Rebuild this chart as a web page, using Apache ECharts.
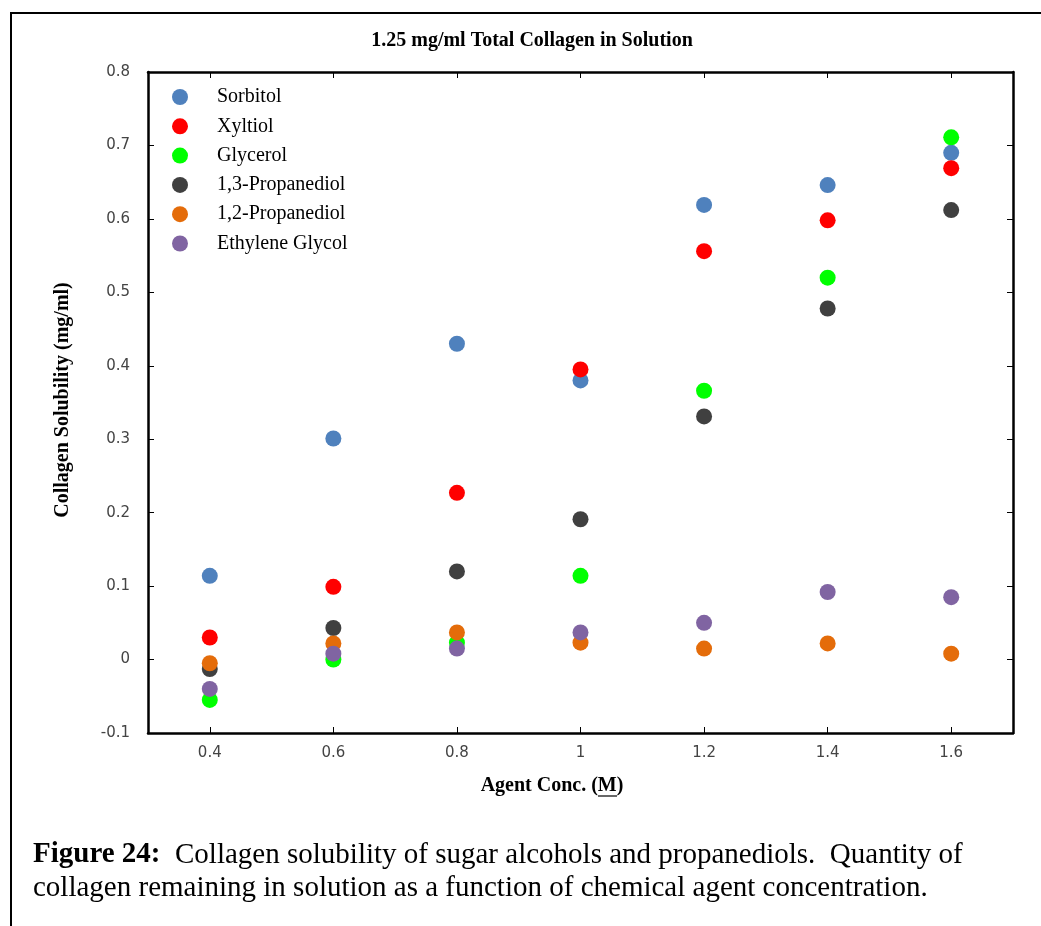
<!DOCTYPE html>
<html>
<head>
<meta charset="utf-8">
<script src="https://cdn.jsdelivr.net/npm/echarts@6/dist/echarts.min.js"></script>
<style>html,body{margin:0;padding:0;background:#fff;}#c{width:1041px;height:926px;}</style>
</head>
<body>
<div id="c"></div>
<script>
const xValues = [0.4, 0.6, 0.8, 1.0, 1.2, 1.4, 1.6];
const xTicks = [0.4, 0.6, 0.8, 1.0, 1.2, 1.4, 1.6];
const seriesNames = ['Sorbitol', 'Xyltiol', 'Glycerol', '1,3-Propanediol', '1,2-Propanediol', 'Ethylene Glycol'];
const sorbitol   = [0.114, 0.301, 0.430, 0.380, 0.619, 0.646, 0.690];
const xyltiol    = [0.030, 0.099, 0.227, 0.395, 0.556, 0.598, 0.669];
const glycerol   = [-0.055, 0.000, 0.023, 0.114, 0.366, 0.520, 0.711];
const prop13     = [-0.013, 0.043, 0.120, 0.191, 0.331, 0.478, 0.612];
const prop12     = [-0.005, 0.022, 0.037, 0.023, 0.015, 0.022, 0.008];
const ethylene   = [-0.040, 0.008, 0.015, 0.037, 0.050, 0.092, 0.085];
const colors = ['#4F81BD', '#FF0000', '#00FF00', '#404040', '#E46C0A', '#8064A2'];
const allValues = [sorbitol, xyltiol, glycerol, prop13, prop12, ethylene];

const chart = echarts.init(document.getElementById('c'), null, {renderer: 'canvas'});
const axisLabelStyle = {color: '#444', fontFamily: 'DejaVu Sans', fontSize: 15};
const lineStyleAxis = {color: '#000', width: 2.5};
const tickStyle = {color: '#000', width: 1};
const option = {
  backgroundColor: '#fff',
  animation: false,
  legend: {
    orient: 'vertical', left: 167, top: 82,
    itemWidth: 16, itemHeight: 16, itemGap: 9.3,
    icon: 'circle',
    data: seriesNames,
    textStyle: {fontFamily: 'Liberation Serif', fontSize: 20, lineHeight: 20, color: '#000', padding: [0, 0, 0, 24]}
  },
  grid: {left: 148, right: 28, top: 72, bottom: 193, containLabel: false},
  xAxis: [{
    type: 'value', min: 0.3, max: 1.7, position: 'bottom',
    axisLine: {onZero: false, lineStyle: lineStyleAxis},
    axisTick: {inside: true, length: 6, customValues: xTicks, lineStyle: tickStyle},
    axisLabel: {customValues: xTicks, margin: 13, ...axisLabelStyle},
    splitLine: {show: false}
  }, {
    type: 'value', min: 0.3, max: 1.7, position: 'top',
    axisLine: {onZero: false, lineStyle: lineStyleAxis},
    axisTick: {inside: true, length: 6, customValues: xTicks, lineStyle: tickStyle},
    axisLabel: {show: false},
    splitLine: {show: false}
  }],
  yAxis: [{
    type: 'value', min: -0.1, max: 0.8, interval: 0.1, position: 'left',
    axisLine: {show: true, onZero: false, lineStyle: lineStyleAxis},
    axisTick: {show: true, inside: true, length: 6, lineStyle: tickStyle},
    axisLabel: {margin: 18, ...axisLabelStyle},
    splitLine: {show: false}
  }, {
    type: 'value', min: -0.1, max: 0.8, interval: 0.1, position: 'right',
    axisLine: {show: true, onZero: false, lineStyle: lineStyleAxis},
    axisTick: {show: true, inside: true, length: 6, lineStyle: tickStyle},
    axisLabel: {show: false},
    splitLine: {show: false}
  }],
  series: seriesNames.map((name, i) => ({
    name: name,
    type: 'scatter',
    symbol: 'circle',
    symbolSize: 16,
    itemStyle: {color: colors[i], opacity: 1},
    data: xValues.map((x, j) => [x, allValues[i][j]])
  })),
  graphic: [
    {type: 'rect', shape: {x: 11, y: 13, width: 1100, height: 1000}, style: {fill: 'none', stroke: '#000', lineWidth: 2}, silent: true},
    {type: 'text', x: 532, y: 41, style: {
      text: '1.25 mg/ml Total Collagen in Solution', fontFamily: 'Liberation Serif', fontWeight: 'bold', fontSize: 20,
      fill: '#000', align: 'center', verticalAlign: 'middle'}},
    {type: 'text', x: 63, y: 400, rotation: Math.PI / 2, style: {
      text: 'Collagen Solubility (mg/ml)', fontFamily: 'Liberation Serif', fontWeight: 'bold', fontSize: 20,
      fill: '#000', align: 'center', verticalAlign: 'middle'}},
    {type: 'text', x: 552, y: 786, style: {
      text: 'Agent Conc. (M)', fontFamily: 'Liberation Serif', fontWeight: 'bold', fontSize: 20,
      fill: '#000', align: 'center', verticalAlign: 'middle'}},
    {type: 'line', shape: {x1: 598, y1: 796, x2: 617, y2: 796}, style: {stroke: '#000', lineWidth: 1.2}},
    {type: 'text', x: 33, y: 855, style: {
      text: '{b|Figure 24:}  Collagen solubility of sugar alcohols and propanediols.  Quantity of',
      rich: {b: {fontFamily: 'Liberation Serif', fontWeight: 'bold', fontSize: 29, fill: '#000'}},
      fontFamily: 'Liberation Serif', fontSize: 29, fill: '#000', verticalAlign: 'middle'}},
    {type: 'text', x: 33, y: 888, style: {
      text: 'collagen remaining in solution as a function of chemical agent concentration.',
      fontFamily: 'Liberation Serif', fontSize: 29, fill: '#000', verticalAlign: 'middle'}}
  ]
};
chart.setOption(option);
</script>
</body>
</html>
